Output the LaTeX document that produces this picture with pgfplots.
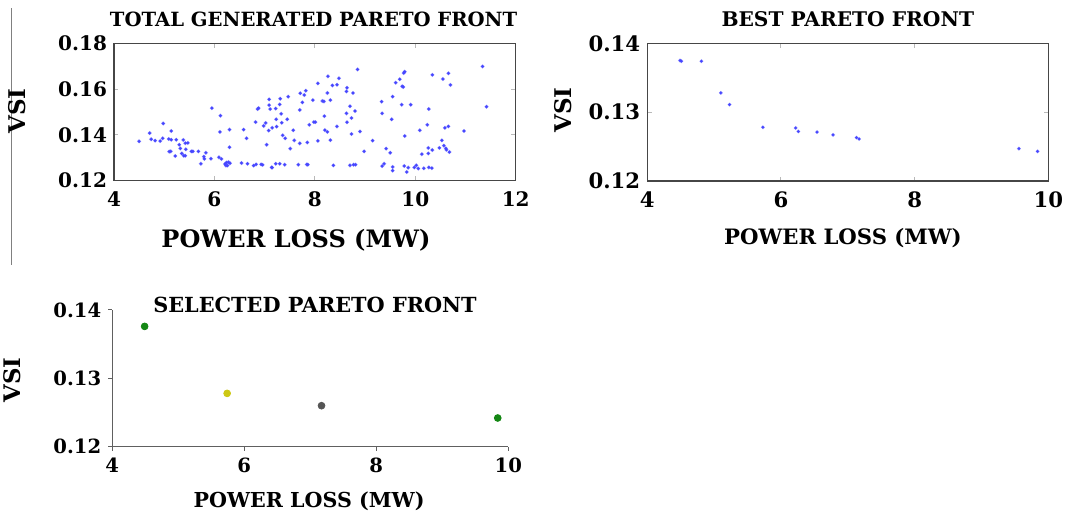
\documentclass[border=0pt]{standalone}
\usepackage{fontspec}
\setmainfont{DejaVu Serif}
\usepackage{pgfplots}
\pgfplotsset{compat=1.18}
\definecolor{dotblue}{RGB}{70,70,255}
\definecolor{boxgray}{RGB}{70,70,70}
\definecolor{selgreen}{RGB}{20,135,20}
\definecolor{selyellow}{RGB}{205,200,20}
\definecolor{selgray}{RGB}{85,85,85}
\pgfplotstableread{
x y
4.50 0.1372
4.71 0.1408
4.74 0.1381
4.82 0.1375
4.92 0.1373
4.97 0.1385
4.98 0.1450
5.09 0.1382
5.14 0.1379
5.14 0.1417
5.24 0.1379
5.10 0.1327
5.13 0.1328
5.30 0.1357
5.32 0.1341
5.38 0.1378
5.42 0.1364
5.47 0.1365
5.35 0.1319
5.22 0.1308
5.39 0.1309
5.42 0.1309
5.43 0.1337
5.54 0.1328
5.57 0.1328
5.68 0.1328
5.83 0.1322
5.79 0.1305
5.73 0.1274
5.80 0.1295
5.93 0.1296
5.95 0.1517
6.09 0.1302
6.14 0.1295
6.12 0.1484
6.11 0.1413
6.30 0.1423
6.30 0.1346
6.21 0.1273
6.24 0.1279
6.28 0.1281
6.31 0.1276
6.23 0.1266
6.26 0.1266
6.58 0.1423
6.64 0.1385
6.54 0.1277
6.66 0.1274
6.78 0.1266
6.83 0.1271
6.93 0.1271
6.96 0.1269
7.04 0.1357
6.82 0.1456
6.86 0.1513
6.88 0.1517
6.98 0.1439
7.02 0.1452
7.08 0.1419
7.09 0.1555
7.09 0.1530
7.11 0.1513
7.15 0.1431
7.22 0.1515
7.23 0.1468
7.24 0.1436
7.30 0.1533
7.31 0.1558
7.33 0.1492
7.34 0.1453
7.36 0.1398
7.41 0.1385
7.45 0.1468
7.47 0.1567
7.51 0.1340
7.57 0.1420
7.59 0.1376
7.70 0.1509
7.71 0.1582
7.75 0.1542
7.70 0.1363
7.82 0.1593
7.79 0.1574
7.85 0.1367
7.89 0.1444
7.98 0.1456
8.01 0.1456
7.96 0.1552
8.06 0.1374
8.06 0.1625
8.15 0.1548
8.18 0.1546
8.19 0.1482
8.20 0.1421
8.25 0.1583
8.26 0.1656
8.25 0.1413
8.31 0.1552
8.31 0.1377
8.35 0.1616
8.44 0.1437
8.44 0.1619
8.48 0.1647
8.64 0.1606
8.63 0.1590
8.63 0.1494
8.64 0.1455
8.70 0.1525
8.73 0.1474
8.73 0.1404
8.76 0.1583
8.80 0.1504
8.85 0.1686
8.90 0.1415
8.98 0.1328
9.15 0.1375
9.33 0.1545
9.34 0.1494
9.34 0.1264
9.38 0.1274
7.22 0.1274
7.30 0.1274
7.40 0.1270
7.67 0.1270
7.84 0.1271
7.86 0.1270
8.37 0.1267
8.70 0.1267
8.77 0.1270
8.81 0.1270
7.14 0.1258
7.15 0.1257
9.42 0.1340
9.50 0.1322
9.53 0.1468
9.55 0.1567
9.55 0.1260
9.55 0.1244
9.61 0.1628
9.69 0.1643
9.74 0.1612
9.76 0.1609
9.77 0.1670
9.79 0.1676
9.73 0.1532
9.91 0.1532
9.79 0.1395
9.78 0.1264
9.83 0.1238
9.86 0.1257
9.98 0.1258
10.02 0.1267
10.06 0.1253
10.09 0.1420
10.13 0.1316
10.17 0.1254
10.24 0.1444
10.26 0.1319
10.26 0.1343
10.27 0.1513
10.27 0.1258
10.34 0.1334
10.34 0.1662
10.33 0.1255
10.48 0.1343
10.53 0.1376
10.55 0.1644
10.57 0.1353
10.59 0.1431
10.61 0.1341
10.62 0.1335
10.66 0.1669
10.66 0.1437
10.68 0.1325
10.70 0.1618
10.97 0.1417
11.34 0.1699
11.42 0.1523
}\totalfront
\pgfplotstableread{
x y
4.49 0.1375
4.51 0.1374
4.81 0.1374
5.10 0.1328
5.23 0.1311
5.73 0.1278
6.22 0.1277
6.26 0.1272
6.54 0.1271
6.78 0.1267
7.13 0.1263
7.17 0.1261
9.56 0.1247
9.84 0.1243
}\bestfront
\pgfplotsset{
  boxaxis/.style={
    scale only axis,
    axis line style={boxgray, line width=0.7pt},
    tick style={gray!55, line width=0.5pt},
    major tick length=2.2pt,
    tick align=inside,
    xtick pos=both, ytick pos=both,
    scaled y ticks=false,
    /pgf/number format/assume math mode=true,
    yticklabel style={/pgf/number format/.cd, fixed, fixed zerofill, precision=2},
    xticklabel style={yshift=-2pt, /pgf/number format/.cd, fixed},
  },
}
\begin{document}
\begin{tikzpicture}
\useasboundingbox (0,0) rectangle (532.5pt,259.5pt);
\draw[gray, line width=0.5pt] (5.5pt,127pt) -- (5.5pt,255.5pt);

% Plot 1
\begin{axis}[boxaxis,
  at={(57pt,169.15pt)}, anchor=south west,
  width=200.85pt, height=68.7pt,
  xmin=4, xmax=12, ymin=0.12, ymax=0.18,
  xtick={4,6,8,10,12}, ytick={0.12,0.14,0.16,0.18},
  ticklabel style={font=\fontsize{10}{12}\selectfont\bfseries},
  xlabel={POWER LOSS (MW)}, ylabel={VSI},
  title={TOTAL GENERATED PARETO FRONT},
  xlabel style={at={(axis description cs:0.453,-0.432)}, anchor=center, font=\fontsize{12}{12}\selectfont\bfseries},
  ylabel style={at={(axis description cs:-0.24,0.507)}, anchor=center, font=\fontsize{11.5}{12}\selectfont\bfseries},
  title style={at={(axis description cs:0.497,1.177)}, anchor=center, yshift=-6pt, font=\fontsize{9.8}{10}\selectfont\bfseries},
]
\addplot[only marks, mark=*, mark size=0.8pt, color=dotblue, mark options={draw opacity=0.5}] table[x=x,y=y] {\totalfront};
\end{axis}

% Plot 2
\begin{axis}[boxaxis,
  at={(323.65pt,169pt)}, anchor=south west,
  width=200.5pt, height=68.85pt,
  xmin=4, xmax=10, ymin=0.12, ymax=0.14,
  xtick={4,6,8,10}, ytick={0.12,0.13,0.14},
  ticklabel style={font=\fontsize{10.6}{12}\selectfont\bfseries},
  xlabel={POWER LOSS (MW)}, ylabel={VSI},
  title={BEST PARETO FRONT},
  xlabel style={at={(axis description cs:0.488,-0.414)}, anchor=center, font=\fontsize{10.6}{12}\selectfont\bfseries},
  ylabel style={at={(axis description cs:-0.209,0.516)}, anchor=center, font=\fontsize{11.5}{12}\selectfont\bfseries},
  title style={at={(axis description cs:0.5,1.176)}, anchor=center, yshift=-6pt, font=\fontsize{10.1}{10}\selectfont\bfseries},
]
\addplot[only marks, mark=*, mark size=0.75pt, color=dotblue, mark options={draw opacity=0.5}] table[x=x,y=y] {\bestfront};
\end{axis}

% Plot 3
\begin{axis}[
  scale only axis,
  at={(56.15pt,36.15pt)}, anchor=south west,
  width=198pt, height=68.35pt,
  xmin=4, xmax=10, ymin=0.12, ymax=0.14,
  axis x line=bottom, axis y line=left,
  axis line style={-, gray!75!black, line width=0.6pt},
  tick style={gray!75!black, line width=0.5pt},
  major tick length=2pt, tick align=outside,
  xtick={4,6,8,10}, ytick={0.12,0.13,0.14},
  scaled y ticks=false,
  /pgf/number format/assume math mode=true,
  yticklabel style={/pgf/number format/.cd, fixed, fixed zerofill, precision=2},
  ticklabel style={font=\fontsize{9.8}{12}\selectfont\bfseries},
  xlabel={POWER LOSS (MW)}, ylabel={VSI},
  title={SELECTED PARETO FRONT},
  xlabel style={at={(axis description cs:0.497,-0.397)}, anchor=center, font=\fontsize{10.3}{12}\selectfont\bfseries},
  ylabel style={at={(axis description cs:-0.253,0.488)}, anchor=center, font=\fontsize{11.4}{12}\selectfont\bfseries},
  title style={at={(axis description cs:0.512,1.037)}, anchor=center, yshift=-6pt, font=\fontsize{10.4}{10}\selectfont\bfseries},
]
\addplot[only marks, mark=*, mark size=1.7pt, color=selgreen] coordinates {(4.49,0.1376) (9.84,0.1242)};
\addplot[only marks, mark=*, mark size=1.7pt, color=selyellow] coordinates {(5.74,0.1278)};
\addplot[only marks, mark=*, mark size=1.7pt, color=selgray] coordinates {(7.17,0.1260)};
\end{axis}
\end{tikzpicture}
\end{document}
